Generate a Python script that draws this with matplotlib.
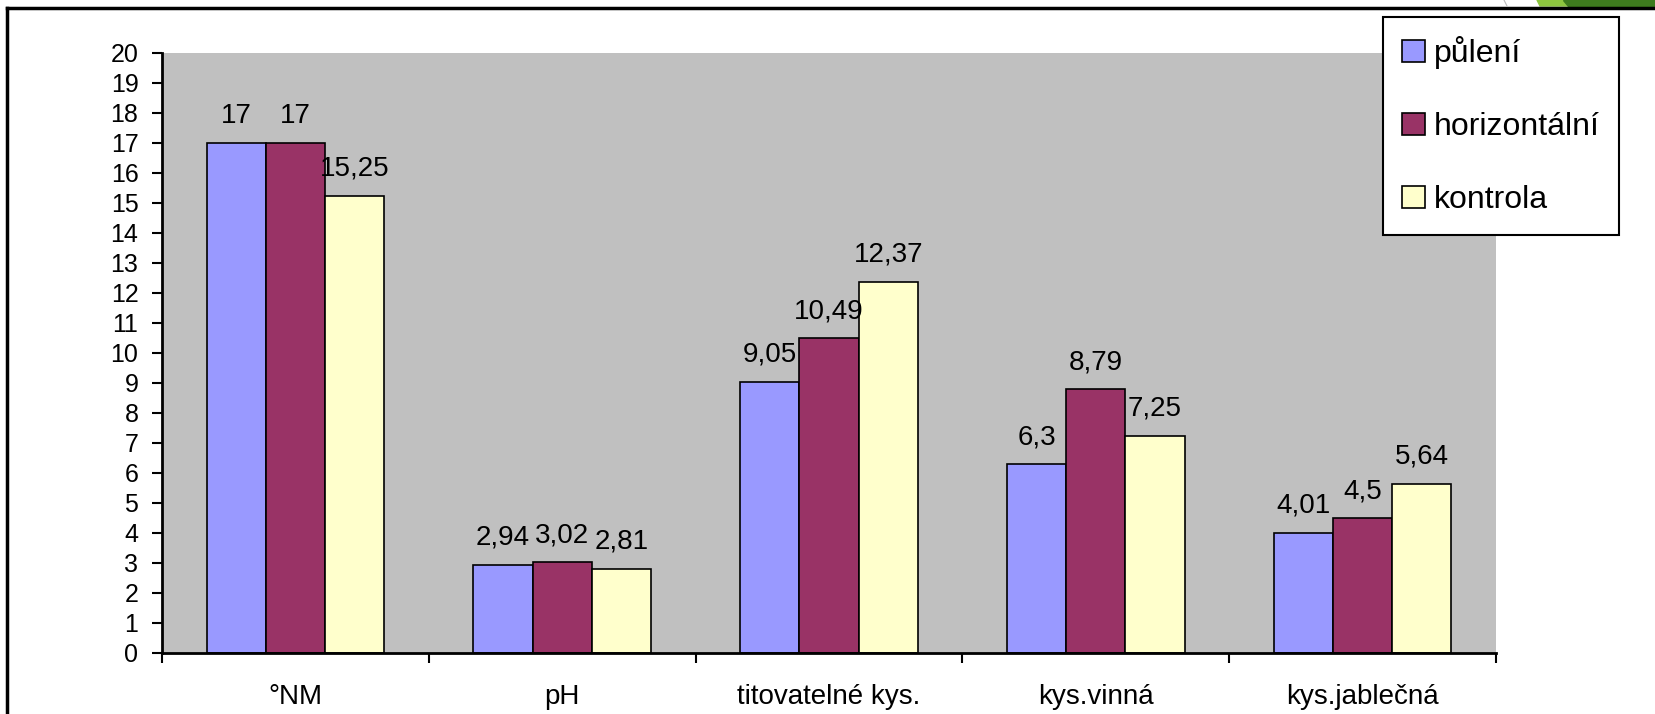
import numpy as np
import matplotlib
matplotlib.use("Agg")
import matplotlib.pyplot as plt
from matplotlib.lines import Line2D
from matplotlib.patches import Polygon

plt.rcParams['font.family'] = ['Liberation Sans', 'DejaVu Sans']

categories = ["°NM", "pH", "titovatelné kys.", "kys.vinná", "kys.jablečná"]
series_names = ["půlení", "horizontální", "kontrola"]
puleni = [17, 2.94, 9.05, 6.3, 4.01]
horizontalni = [17, 3.02, 10.49, 8.79, 4.5]
kontrola = [15.25, 2.81, 12.37, 7.25, 5.64]
colors = ["#9999FF", "#993366", "#FFFFCC"]

W, H = 1656, 714
fig = plt.figure(figsize=(W / 100, H / 100), dpi=100)
ax = fig.add_axes([162 / W, 1 - 653 / H, (1496 - 162) / W, (653 - 53) / H])
ax.set_facecolor("#C0C0C0")

x = np.arange(len(categories))
w = 0.222
handles = []
for i, (vals, name) in enumerate(zip([puleni, horizontalni, kontrola], series_names)):
    bars = ax.bar(x + (i - 1) * w, vals, w, color=colors[i], edgecolor="black",
                  linewidth=1.2, label=name, zorder=2)
    handles.append(bars)
    for xi, v in zip(x + (i - 1) * w, vals):
        ax.annotate(f"{v:g}".replace(".", ","), (xi, v), xytext=(0, 14.4),
                    textcoords="offset points", ha="center", va="baseline",
                    fontsize=20)

ax.set_xlim(-0.5, len(categories) - 0.5)
ax.set_ylim(0, 20)
ax.set_yticks(range(0, 21))
ax.tick_params(axis="y", labelsize=18, length=7, width=1.5, pad=10, direction="out")
ax.set_xticks(x)
ax.set_xticklabels(categories, fontsize=20)
ax.tick_params(axis="x", which="major", length=0, pad=22)
ax.set_xticks(np.arange(-0.5, len(categories)), minor=True)
ax.tick_params(axis="x", which="minor", length=7, width=1.5, direction="out")
for s in ["top", "right"]:
    ax.spines[s].set_visible(False)
for s in ["left", "bottom"]:
    ax.spines[s].set_linewidth(2)

leg = fig.legend(handles=handles, loc="upper left",
                 bbox_to_anchor=(1383 / W, 1 - 17 / H), borderaxespad=0,
                 fontsize=23, frameon=True, fancybox=False, edgecolor="black",
                 framealpha=1, handlelength=0.7, handleheight=0.7,
                 handletextpad=0.3, labelspacing=1.35, borderpad=0.6)
leg.get_frame().set_linewidth(1.5)

# slide frame and decoration
fig.add_artist(Line2D([7 / W, 1], [1 - 8 / H, 1 - 8 / H], color="black", lw=2.5,
                      transform=fig.transFigure))
fig.add_artist(Line2D([7 / W, 7 / W], [0, 1 - 8 / H], color="black", lw=2.5,
                      transform=fig.transFigure))
fig.add_artist(Polygon([(1537 / W, 1), (1563 / W, 1), (1568 / W, 1 - 6 / H), (1540 / W, 1 - 6 / H)],
                       closed=True, color="#8DC63F", transform=fig.transFigure))
fig.add_artist(Polygon([(1563 / W, 1), (1, 1), (1, 1 - 6 / H), (1568 / W, 1 - 6 / H)],
                       closed=True, color="#3E7B1E", transform=fig.transFigure))
fig.add_artist(Line2D([1504 / W, 1507 / W], [1, 1 - 6 / H], color="#BBBBBB", lw=0.8,
                      transform=fig.transFigure))

fig.savefig("out.png", dpi=100)
